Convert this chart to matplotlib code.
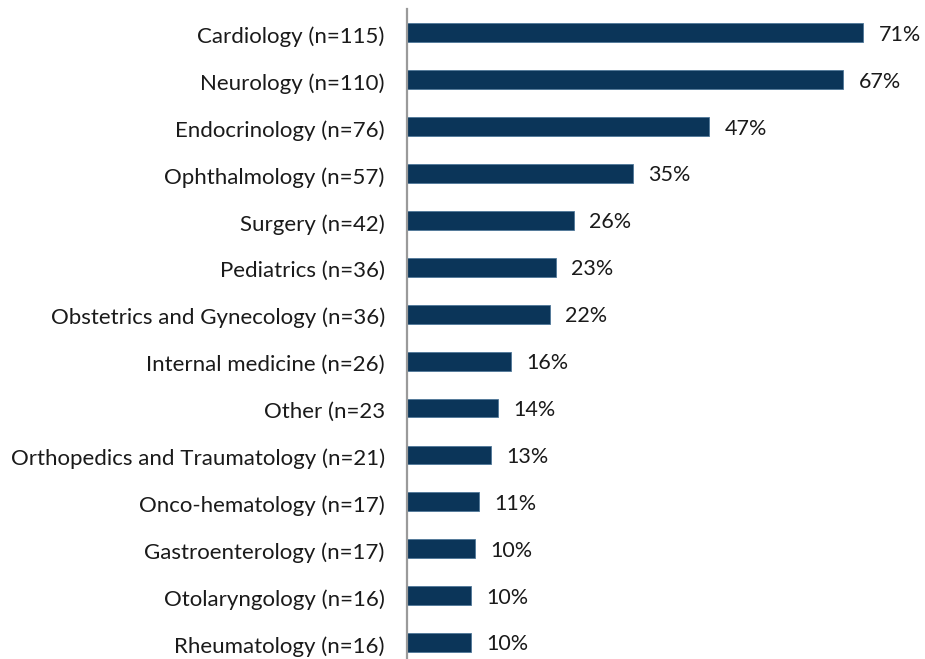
import matplotlib as mpl
import matplotlib.pyplot as plt

mpl.rcParams['font.family'] = ['Lato', 'DejaVu Sans']

categories = [
    "Cardiology (n=115)",
    "Neurology (n=110)",
    "Endocrinology (n=76)",
    "Ophthalmology (n=57)",
    "Surgery (n=42)",
    "Pediatrics (n=36)",
    "Obstetrics and Gynecology (n=36)",
    "Internal medicine (n=26)",
    "Other (n=23",
    "Orthopedics and Traumatology (n=21)",
    "Onco-hematology (n=17)",
    "Gastroenterology (n=17)",
    "Otolaryngology (n=16)",
    "Rheumatology (n=16)",
]
values = [71.4, 68.3, 47.3, 35.4, 26.1, 23.3, 22.4, 16.3, 14.2, 13.1, 11.2, 10.6, 10.0, 10.0]
value_labels = ["71%", "67%", "47%", "35%", "26%", "23%", "22%", "16%", "14%",
                "13%", "11%", "10%", "10%", "10%"]

W, H = 925, 659
fig = plt.figure(figsize=(W / 100, H / 100), dpi=100)
# axes placed in pixel terms: y-axis line at x=407, 14 rows of ~46.9 px from y=10
ax = fig.add_axes([407 / W, -7 / H, (915 - 407) / W, 656.6 / H])

y = range(len(categories))
ax.barh(y, values, height=0.40, color="#0b3559", edgecolor="#4f7799", linewidth=0.6)
ax.set_ylim(len(categories) - 0.5, -0.5)
ax.set_xlim(0, (915 - 407) / 6.39)

for yi, v, lab in zip(y, values, value_labels):
    ax.annotate(lab, (v, yi + 0.04), xytext=(11, 0), textcoords="offset points",
                va="center", ha="left", fontsize=15.5, color="#1a1a1a")

ax.set_yticks([yi + 0.04 for yi in y])
ax.set_yticklabels(categories, fontsize=16, color="#1a1a1a")
ax.tick_params(axis="y", length=0, pad=16)
ax.set_xticks([])

for side in ["top", "right", "bottom"]:
    ax.spines[side].set_visible(False)
ax.spines["left"].set_color("#9a9a9a")
ax.spines["left"].set_linewidth(1.6)

fig.savefig("out.png", dpi=100)
